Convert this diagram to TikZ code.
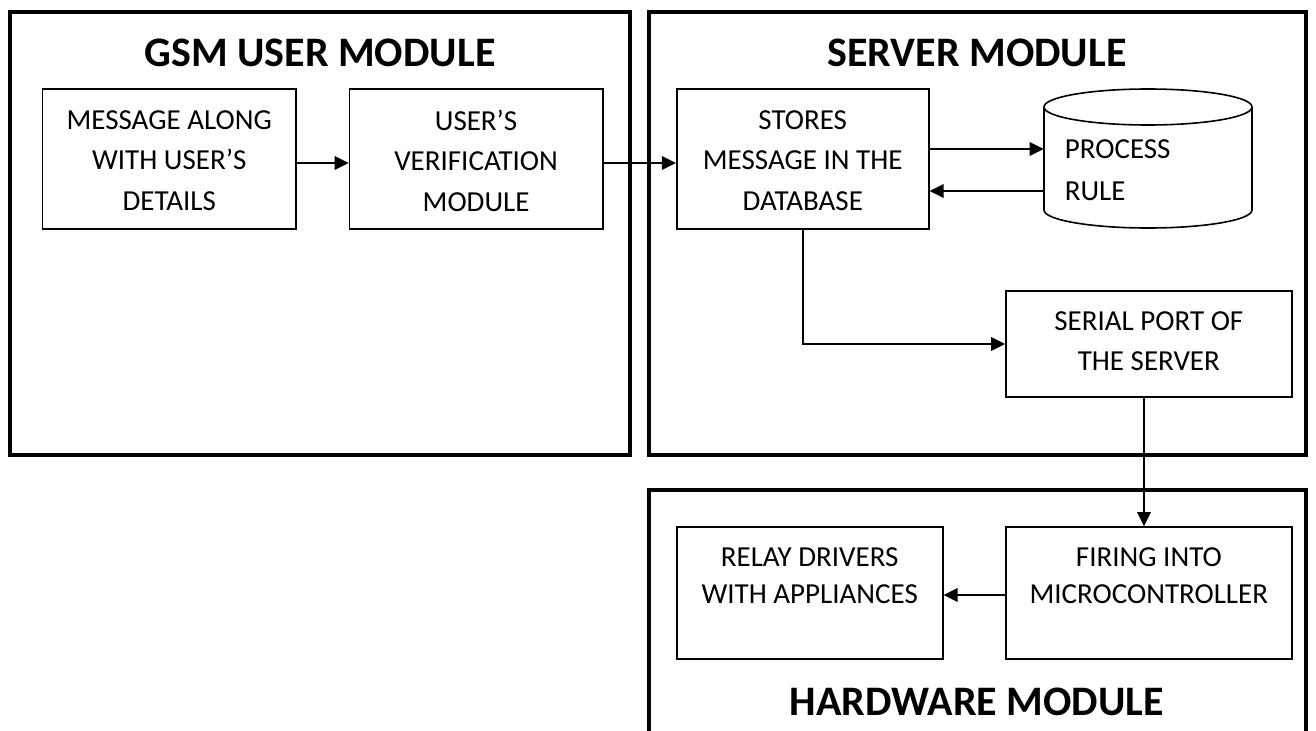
\documentclass[tikz,border=0pt]{standalone}
\usepackage{fontspec}
\setmainfont{Carlito}
\usetikzlibrary{arrows.meta,fit}
\begin{document}
\begin{tikzpicture}[x=0.75pt,y=-0.75pt,
  module/.style={line width=3pt},
  blockbox/.style={draw, line width=1.2pt, inner sep=0pt},
  blocktext/.style={inner sep=0pt, align=center,
    font=\fontsize{21.75}{30.4}\selectfont},
  title/.style={inner sep=0pt, font=\fontsize{31.5}{38}\selectfont\bfseries},
  conn/.style={line width=1.5pt, -{Triangle[length=10.5pt,width=10pt]}},
  drum/.style={line width=1.2pt}]
\useasboundingbox (0,0) rectangle (1316,731);
\fill[white] (0,0) rectangle (1316,731);

% module frames (the hardware frame runs off the bottom edge)
\draw[module] (10,12) rectangle (629.5,455);
\draw[module] (648.7,12) rectangle (1306,455);
\draw[module] (648.7,745) -- (648.7,490) -- (1306,490) -- (1306,745);

% module titles
\node[title] (gsmtitle) at (320,53) {GSM USER MODULE};
\node[title] (srvtitle) at (977,53) {SERVER MODULE};
\node[title] (hwtitle) at (977,702) {HARDWARE MODULE};

% GSM user module blocks
\node[blockbox, fit={(42.5,89) (296,229)}] (msg) {};
\node[blocktext] (msgtext) at ([yshift=-1.1pt]msg.center) {MESSAGE ALONG\\WITH USER’S\\DETAILS};
\node[blockbox, fit={(349.5,89) (602.7,229)}] (ver) {};
\node[blocktext] (vertext) at ([yshift=-1.1pt]ver.center) {USER’S\\VERIFICATION\\MODULE};

% server module blocks
\node[blockbox, fit={(676.7,89) (928.8,229)}] (store) {};
\node[blocktext] (storetext) at ([yshift=-1.1pt]store.center) {STORES\\MESSAGE IN THE\\DATABASE};
\node[blockbox, fit={(1006,291) (1291.7,397)}] (serial) {};
\node[blocktext, font=\fontsize{21.75}{30}\selectfont] (serialtext)
  at ([yshift=2.25pt]serial.center) {SERIAL PORT OF\\THE SERVER};

% rule database drawn as a cylinder
\node[inner sep=0pt, fit={(1044,89) (1252,228)}] (cyl) {};
\draw[drum] (1148,107) ellipse [x radius=78pt, y radius=13.5pt];
\draw[drum] (1044,107) -- (1044,210)
  arc[start angle=180, end angle=360, x radius=78pt, y radius=13.5pt]
  -- (1252,107);
\node[blocktext, anchor=west] (proc) at (1064.6,149) {PROCESS};
\node[blocktext, anchor=west] (rule) at (1064.6,191) {RULE};

% hardware module blocks
\node[blockbox, fit={(676.7,527) (942.7,659)}] (relay) {};
\node[blocktext, font=\fontsize{21.75}{27.5}\selectfont] (relaytext)
  at ([yshift=-0.6pt]relay.center) {RELAY DRIVERS\\WITH APPLIANCES\\\mbox{}};
\node[blockbox, fit={(1006,527) (1291.7,659)}] (firing) {};
\node[blocktext, font=\fontsize{21.75}{27.5}\selectfont] (firingtext)
  at ([yshift=-0.6pt]firing.center) {FIRING INTO\\MICROCONTROLLER\\\mbox{}};

% connectors
\draw[conn] (msg.east |- 0,163) -- (ver.west |- 0,163);
\draw[conn] (ver.east |- 0,163) -- (store.west |- 0,163);
\draw[conn] (store.east |- 0,149) -- (cyl.west |- 0,149);
\draw[conn] (cyl.west |- 0,191) -- (store.east |- 0,191);
\draw[conn] (store.south -| 803,0) |- (serial.west);
\draw[conn] (serial.south -| 1144,0) -- (firing.north -| 1144,0);
\draw[conn] (firing.west |- 0,595) -- (relay.east |- 0,595);
\end{tikzpicture}
\end{document}
